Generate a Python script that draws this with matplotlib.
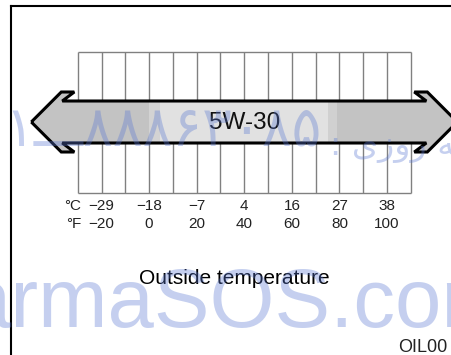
import matplotlib
matplotlib.use("Agg")
import matplotlib.pyplot as plt
from matplotlib.patches import Polygon, Rectangle

plt.rcParams['font.family'] = ['Liberation Sans', 'DejaVu Sans']

# ---- data ----
grade = "5W-30"
temps_c = [-29, -18, -7, 4, 16, 27, 38]
temps_f = [-20, 0, 20, 40, 60, 80, 100]
grid_f = [-30, -20, -10, 0, 10, 20, 30, 40, 50, 60, 70, 80, 90, 100, 110]
grade_range_f = [-49.5, 129.5]          # arrow runs past both ends of the scale
shade_edges_f = [-49.5, 0, 4.5, 75, 79, 129.5]
shade_colors = ["#c3c3c3", "#d3d3d3", "#e1e1e1", "#d0d0d0", "#c3c3c3"]
caption = "Outside temperature"
code = "OIL00"
watermark = "armaSOS.com"
wm_digits = "\u06F1\u0640\u0640\u0640\u06F8\u06F8\u06F8\u06F6\u06F3\u06F0\u06F8\u06F5"
wm_words = ": \u06CC\u0632\u0648\u0631 \uFEEA\uFEE7\uFE8E\uFE92\uFEB7"

# ---- layout (pixels) ----
W, H = 452, 355
PX_PER_F = 2.38
X0_PX = 77.7            # pixel of the -30 F grid edge
GRID_TOP, GRID_BOT = 52, 193
SHAFT_TOP, SHAFT_BOT, MID = 101, 143, 122
BARB_TOP, BARB_BOT = 92, 152
HEAD_OUT, HEAD_IN, NOTCH = 30 / PX_PER_F, 43 / PX_PER_F, 31 / PX_PER_F

fig = plt.figure(figsize=(W / 100, H / 100), dpi=100)
fig.patch.set_facecolor("white")

ax = fig.add_axes([0, 0, 1, 1])
ax.set_xlim(grid_f[0] - X0_PX / PX_PER_F, grid_f[0] + (W - X0_PX) / PX_PER_F)
ax.set_ylim(H, 0)
ax.axis("off")

# column grid
ax.vlines(grid_f, GRID_TOP, GRID_BOT, color="#808080", lw=1.0, zorder=1)
ax.hlines([GRID_TOP, GRID_BOT], grid_f[0], grid_f[-1], color="#808080", lw=1.0, zorder=1)

# double-headed grade arrow
L, R = grade_range_f
pts = [(L, MID), (L + HEAD_OUT, BARB_TOP), (L + HEAD_IN, BARB_TOP), (L + NOTCH, SHAFT_TOP),
       (R - NOTCH, SHAFT_TOP), (R - HEAD_IN, BARB_TOP), (R - HEAD_OUT, BARB_TOP), (R, MID),
       (R - HEAD_OUT, BARB_BOT), (R - HEAD_IN, BARB_BOT), (R - NOTCH, SHAFT_BOT),
       (L + NOTCH, SHAFT_BOT), (L + HEAD_IN, BARB_BOT), (L + HEAD_OUT, BARB_BOT)]
clip = Polygon(pts, closed=True, facecolor="none", edgecolor="none")
ax.add_patch(clip)
for a, b, col in zip(shade_edges_f[:-1], shade_edges_f[1:], shade_colors):
    r = Rectangle((a, BARB_TOP), b - a, BARB_BOT - BARB_TOP, facecolor=col,
                  edgecolor="none", zorder=2)
    ax.add_patch(r)
    r.set_clip_path(clip)
ax.add_patch(Polygon(pts, closed=True, facecolor="none", edgecolor="black",
                     lw=2.2, joinstyle="miter", zorder=3))
ax.text(sum(grade_range_f) / 2, MID + 1, grade, ha="center", va="center",
        fontsize=17.5, color="#111111", zorder=4)

# temperature labels
def fmt(v):
    return ("\u2212%d" % -v) if v < 0 else "%d" % v

for c, f in zip(temps_c, temps_f):
    ax.text(f, 206, fmt(c), ha="center", va="center", fontsize=11, color="#222222")
    ax.text(f, 223.5, fmt(f), ha="center", va="center", fontsize=11, color="#222222")

# decorations in pixel space
deco = fig.add_axes([0, 0, 1, 1])
deco.set_xlim(0, W)
deco.set_ylim(H, 0)
deco.axis("off")
deco.patch.set_alpha(0)
deco.set_zorder(2)

deco.plot([11, 11], [6, H + 10], color="black", lw=1.5)
deco.plot([11, W + 10], [6, 6], color="black", lw=1.5)
deco.text(81, 206, "\u00b0C", ha="right", va="center", fontsize=11, color="#222222")
deco.text(81, 223.5, "\u00b0F", ha="right", va="center", fontsize=11, color="#222222")
deco.text(234, 279, caption, ha="center", va="center", fontsize=15, color="black")
deco.text(398, 352, code, ha="left", va="baseline", fontsize=13, color="#222222")

wm = dict(color="#5a78d2", alpha=0.35, zorder=10)
deco.text(-36, 327, watermark, ha="left", va="baseline", fontsize=60, **wm)
deco.text(4, 146, wm_digits, ha="left", va="baseline", fontsize=40,
          family="DejaVu Sans", **wm)
deco.text(330, 155, wm_words, ha="left", va="baseline", fontsize=24,
          family="DejaVu Sans", **wm)

fig.savefig("out.png", dpi=100)
